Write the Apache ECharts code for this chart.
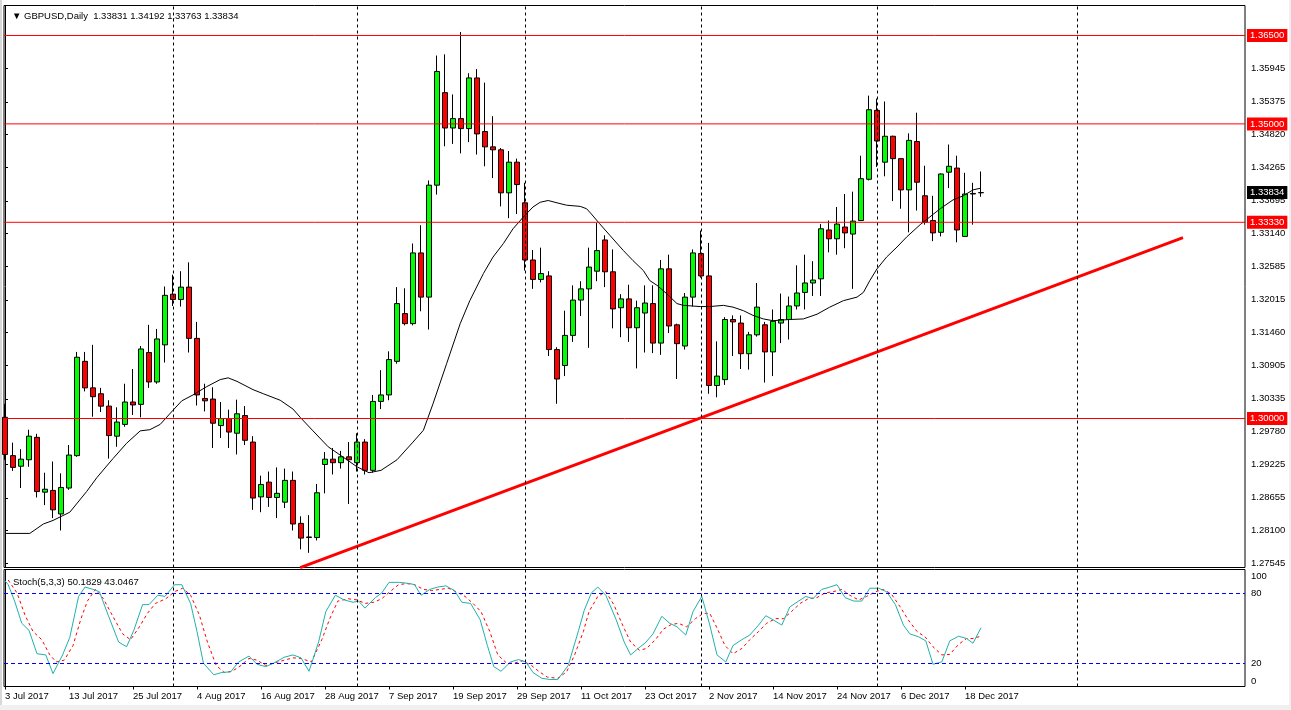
<!DOCTYPE html>
<html><head><meta charset="utf-8">
<script src="https://cdn.jsdelivr.net/npm/echarts/dist/echarts.min.js"></script>
<style>html,body{margin:0;padding:0;background:#fff;}#c{width:1291px;height:710px;}</style>
</head><body><div id="c"></div>
<script>
const xTickLabels = ['3 Jul 2017','13 Jul 2017','25 Jul 2017','4 Aug 2017','16 Aug 2017','28 Aug 2017','7 Sep 2017','19 Sep 2017','29 Sep 2017','11 Oct 2017','23 Oct 2017','2 Nov 2017','14 Nov 2017','24 Nov 2017','6 Dec 2017','18 Dec 2017'];
const opens = [
1.3002,1.2937,1.2919,1.2930,1.2968,1.2875,1.2878,1.2838,1.2882,1.2937,
1.3097,1.3052,1.3042,1.3021,1.2970,1.2990,1.3028,1.3024,1.3112,1.3062,
1.3125,1.3211,1.3202,1.3223,1.3136,1.3034,1.3033,1.2988,1.3000,1.2975,
1.3005,1.2960,1.2867,1.2892,1.2866,1.2858,1.2895,1.2822,1.2798,1.2798,
1.2922,1.2931,1.2925,1.2935,1.2925,1.2960,1.2912,1.3029,1.3040,1.3097,
1.3178,1.3161,1.3281,1.3206,1.3396,1.3553,1.3493,1.3509,1.3492,1.3578,
1.3487,1.3461,1.3456,1.3383,1.3435,1.3366,1.3269,1.3236,1.3242,1.3117,
1.3090,1.3141,1.3201,1.3220,1.3250,1.3303,1.3249,1.3188,1.3203,1.3154,
1.3179,1.3195,1.3128,1.3254,1.3159,1.3123,1.3206,1.3280,1.3242,1.3056,
1.3066,1.3168,1.3162,1.3110,1.3142,1.3159,1.3113,1.3162,1.3168,1.3191,
1.3214,1.3230,1.3237,1.3320,1.3305,1.3325,1.3313,1.3336,1.3406,1.3523,
1.3435,1.3479,1.3441,1.3388,1.3470,1.3378,1.3336,1.3316,1.3418,1.3425,
1.3309,1.3381,1.33831];
const highs = [
1.3025,1.2959,1.2948,1.2981,1.2974,1.2908,1.2927,1.2907,1.2955,1.3113,
1.3113,1.3125,1.3052,1.3031,1.3019,1.3059,1.3084,1.3123,1.3159,1.3152,
1.3224,1.3244,1.3250,1.3265,1.3164,1.3059,1.3053,1.3028,1.3015,1.3032,
1.3021,1.2970,1.2903,1.2910,1.2917,1.2915,1.2910,1.2834,1.2836,1.2889,
1.2943,1.2950,1.2945,1.2960,1.2975,1.2965,1.3040,1.3082,1.3114,1.3223,
1.3221,1.3297,1.3328,1.3404,1.3616,1.3618,1.3550,1.3656,1.3586,1.3593,
1.3570,1.3513,1.3459,1.3454,1.3441,1.3400,1.3286,1.3290,1.3250,1.3121,
1.3183,1.3226,1.3233,1.3290,1.3332,1.3311,1.3287,1.3211,1.3227,1.3200,
1.3226,1.3226,1.3269,1.3278,1.3161,1.3213,1.3287,1.3319,1.3298,1.3131,
1.3172,1.3175,1.3175,1.3147,1.3230,1.3164,1.3185,1.3212,1.3207,1.3260,
1.3278,1.3267,1.3330,1.3336,1.3359,1.3381,1.3385,1.3446,1.3548,1.3543,
1.3538,1.3480,1.3441,1.3484,1.3519,1.3429,1.3378,1.3416,1.3465,1.3446,
1.3417,1.3400,1.34192];
const lows = [
1.2930,1.2911,1.2882,1.2918,1.2866,1.2853,1.2831,1.2810,1.2879,1.2935,
1.3046,1.3003,1.3011,1.2932,1.2952,1.2986,1.3006,1.3002,1.3052,1.3059,
1.3095,1.3191,1.3190,1.3112,1.3022,1.3012,1.2950,1.2967,1.2950,1.2939,
1.2955,1.2845,1.2841,1.2850,1.2831,1.2848,1.2810,1.2778,1.2772,1.2793,
1.2873,1.2905,1.2915,1.2855,1.2910,1.2905,1.2908,1.3016,1.3031,1.3093,
1.3158,1.3158,1.3182,1.3151,1.3380,1.3462,1.3466,1.3450,1.3469,1.3448,
1.3428,1.3408,1.3360,1.3340,1.3347,1.3251,1.3220,1.3231,1.3106,1.3025,
1.3072,1.3130,1.3174,1.3120,1.3233,1.3223,1.3153,1.3138,1.3130,1.3085,
1.3112,1.3111,1.3108,1.3145,1.3067,1.3117,1.3190,1.3239,1.3042,1.3036,
1.3057,1.3106,1.3084,1.3083,1.3139,1.3061,1.3072,1.3128,1.3134,1.3185,
1.3185,1.3208,1.3208,1.3282,1.3278,1.3289,1.3220,1.3335,1.3404,1.3427,
1.3411,1.3369,1.3356,1.3316,1.3353,1.3329,1.3301,1.3309,1.3391,1.3299,
1.3308,1.3329,1.33763];
const closes = [
1.2939,1.2917,1.2931,1.2970,1.2876,1.2880,1.2845,1.2883,1.2938,1.3104,
1.3052,1.3037,1.3021,1.2971,1.2994,1.3028,1.3023,1.3118,1.3062,1.3135,
1.3209,1.3202,1.3223,1.3136,1.3040,1.3030,1.2992,1.3000,1.2977,1.3008,
1.2963,1.2865,1.2888,1.2866,1.2873,1.2895,1.2821,1.2797,1.2799,1.2874,
1.2931,1.2925,1.2935,1.2930,1.2960,1.2912,1.3029,1.3040,1.3100,1.3195,
1.3161,1.3281,1.3206,1.3396,1.3589,1.3493,1.3509,1.3492,1.3578,1.3483,
1.3461,1.3456,1.3383,1.3435,1.3397,1.3269,1.3236,1.3246,1.3117,1.3067,
1.3141,1.3201,1.3220,1.3257,1.3285,1.3249,1.3186,1.3203,1.3154,1.3188,
1.3196,1.3128,1.3254,1.3157,1.3127,1.3206,1.3281,1.3242,1.3056,1.3072,
1.3168,1.3164,1.3110,1.3142,1.3189,1.3113,1.3165,1.3168,1.3191,1.3213,
1.3230,1.3235,1.3322,1.3305,1.3330,1.3315,1.3335,1.3407,1.3524,1.3471,
1.3479,1.3441,1.3388,1.3472,1.3401,1.3333,1.3315,1.3415,1.3428,1.3320,
1.3381,1.3382,1.33834];
const maLine = [[0,1.2805],[3.1,1.2805],[4.8,1.2821],[6,1.2827],[8.1,1.2841],[10.2,1.2876],[11.5,1.2900],[13.5,1.2932],[15.2,1.2958],[16.9,1.2979],[18.1,1.2981],[19.4,1.2990],[21,1.3014],[22.1,1.3030],[23.5,1.3040],[25.2,1.3054],[26.9,1.3066],[27.9,1.3069],[29,1.3063],[31,1.3049],[32.3,1.3042],[34.4,1.3031],[36,1.3016],[36.9,1.3002],[38.5,1.2979],[40.4,1.2952],[42,1.2937],[44,1.2918],[45.5,1.2908],[47,1.2912],[49,1.2930],[51,1.2960],[52.3,1.2980],[53.5,1.3025],[55.2,1.3093],[56.9,1.3161],[58.1,1.3200],[59.8,1.3246],[61,1.3274],[62.3,1.3297],[63.5,1.3322],[64.8,1.3342],[66,1.3359],[66.9,1.3367],[67.9,1.3370],[69,1.3366],[70.2,1.3362],[71.9,1.3360],[72.7,1.3356],[73.3,1.3347],[74.3,1.3331],[75.6,1.3311],[77.3,1.3285],[78.5,1.3268],[79.8,1.3251],[80.6,1.3234],[81.5,1.3226],[82.7,1.3212],[84,1.3195],[84.8,1.3192],[86.9,1.3190],[88.1,1.3190],[89.8,1.3192],[91,1.3189],[92.3,1.3183],[93.5,1.3175],[94.8,1.3169],[96,1.3166],[98.1,1.3168],[99.8,1.3169],[101.5,1.3177],[103.1,1.3189],[104.8,1.3200],[106.5,1.3206],[107.3,1.3214],[108.1,1.3234],[109,1.3254],[110.2,1.3274],[111.5,1.3291],[112.7,1.3308],[114.4,1.3329],[115.6,1.3342],[116.9,1.3356],[118.5,1.3371],[119.8,1.3378],[121,1.3388],[122,1.3391]];
const stochMain = [[-0.1,91],[0.4,87],[1.2,73],[2.1,54],[3,48],[4,28],[5.1,27],[6,11],[7.2,27],[8.1,42],[9.2,77],[10,85],[11,83],[11.8,81],[12.9,61],[14.2,38],[15.2,34],[16.1,48],[17.2,70],[18,70],[19.1,78],[20,77],[21.2,87],[22.1,87],[23.2,71],[24,47],[24.8,20],[26.1,10],[27.1,12],[28.2,12.5],[29.2,21],[30.5,26],[31.5,19],[32.6,17],[33.6,20],[34.9,25],[36,27],[37,24.5],[38,13],[39.2,38],[40.1,64],[41.3,78],[42.4,74],[43.5,72],[44.2,73],[45,67],[46.3,76],[47.1,80],[48,89],[49.3,89],[50.6,88],[51.2,87],[52,78],[53.1,83],[54.1,85],[55.1,86],[56.2,82],[57.1,72],[58.2,71],[59.4,57],[60.3,35],[61.1,17],[62,13],[63.2,21],[64.2,23],[65.1,21],[66,12],[67.1,7],[68.1,6],[69.1,6],[70.4,18],[71.7,48],[72.4,65],[73.3,80],[74.1,85],[75.1,78],[76.4,57],[77.4,38],[78.2,27],[79.4,34],[80,37],[81,45],[82.1,60],[83.1,54],[84,51],[85.1,44],[86,64],[87.1,77],[88.1,52.5],[89,27],[90.1,21],[91,35],[92.1,40],[93.1,44],[94.2,52.5],[95.1,60.5],[96,57],[97.1,52.5],[98.1,68],[99.2,73],[100.1,77],[101,75],[102.1,83],[103.1,85],[104,87],[105,76],[106.1,73],[107.1,73],[108.1,84],[109.2,84],[110.2,81],[111.3,70],[112.3,52.5],[113.1,45],[114.2,42.5],[115.1,39],[116,19],[117.1,21],[118.1,39],[119.2,43],[120.2,41],[121,37],[122,50.18]];
const stochSignal = [[0.4,91],[1.5,80],[2.5,61],[3.5,47],[4.6,40],[5.6,27],[6.4,21],[7.4,22.5],[8.5,35],[9.5,58],[10.3,73],[11.3,83],[12.3,75],[13.4,61],[14.7,45],[15.7,40],[16.8,51],[17.8,62.5],[18.8,71],[20.1,75],[21.2,81],[22.2,84],[23.2,78],[24.3,61],[25.3,38],[26.4,18],[27.4,12],[28.4,13],[29.5,18],[30.5,24],[31.5,22.5],[32.6,18],[33.6,20],[34.9,22.5],[36,24.5],[37,24],[38.3,21],[39.6,40],[40.6,58],[41.6,73],[42.9,75],[44,74],[45,71],[46.1,72],[47.1,75],[48.1,81],[49.2,87],[50.2,88],[51.2,87],[52.3,83],[53.3,82],[54.4,83],[55.4,84],[56.4,81],[57.5,77],[58.5,71],[59.5,64],[60.6,47],[61.6,27],[62.7,20],[63.7,20],[64.7,22],[65.8,18],[66.8,12.5],[67.8,8],[69.1,7],[70.2,12.5],[71.2,27],[72.3,47],[73,64],[74.1,77],[75.1,81],[76.1,70],[77.2,52.5],[78.2,38],[79.3,31],[80.2,32.5],[81.3,40],[82.3,49],[83.3,53],[84.2,54],[85.2,51],[86.3,58],[87.3,62.5],[88.1,62.5],[89,50],[90,35],[91,28],[92.1,32.5],[93.1,40],[94.2,47],[95.2,54],[96.3,58],[97.3,58],[98.3,64],[99.4,71],[100.4,75],[101.5,76],[102.5,80],[103.5,81],[104.6,83],[105.6,78],[106.7,74],[107.7,77],[108.8,81],[109.8,83],[110.8,79],[111.9,68],[112.9,57],[114,47],[115,42.5],[116,34],[117.1,27],[118.1,27.5],[119.2,36],[120.2,41],[121,41],[122,43.05]];
const levels = [1.365, 1.35, 1.3333, 1.30];
const currentPrice = 1.33834;
const priceTicks = [1.27545,1.28100,1.28655,1.29225,1.29780,1.30335,1.30905,1.31460,1.32015,1.32585,1.33140,1.33695,1.34265,1.34820,1.35375,1.35945];
const stochLevels = [20, 80];
const stochTicks = [0, 20, 80, 100];
const monthLines = [21, 44, 65, 87, 109, 134];
const trendLine = [[36.9, 1.2747], [147.25, 1.3307]];

const FONT = '"Liberation Sans", Arial, sans-serif';
const FS = 9.5;
const X_MIN = -0.125, X_MAX = 155;
const tickIdx = xTickLabels.map((_, i) => i * 8);
const candleData = opens.map((o, i) => [i, o, closes[i], lows[i], highs[i]]);
const vLines = monthLines.map(v => ({ xAxis: v }));

function levelSeries(v, bg, lineColor) {
  return {
    type: 'line', xAxisIndex: 0, yAxisIndex: 0, z: 5, silent: true, symbol: 'none',
    data: [[X_MIN, v], [X_MAX, v]],
    lineStyle: { color: lineColor, width: 1 },
    endLabel: { show: true, formatter: v.toFixed(5), distance: 2, backgroundColor: bg, color: '#fff',
      padding: [2, 3, 1, 3], fontSize: FS, fontFamily: FONT }
  };
}

const chart = echarts.init(document.getElementById('c'));
chart.setOption({
  animation: false,
  backgroundColor: '#ffffff',
  textStyle: { fontFamily: FONT },
  title: [
    { text: '\u25BC GBPUSD,Daily  1.33831 1.34192 1.33763 1.33834', left: 7, top: 6,
      textStyle: { fontSize: FS, fontWeight: 'normal', color: '#000', fontFamily: FONT } },
    { text: 'Stoch(5,3,3) 50.1829 43.0467', left: 8, top: 572,
      textStyle: { fontSize: FS, fontWeight: 'normal', color: '#000', fontFamily: FONT } }
  ],
  graphic: [
    { type: 'rect', shape: { x: 0, y: 705, width: 1291, height: 5 }, style: { fill: '#f0f0f0' }, silent: true },
    { type: 'rect', shape: { x: 1289, y: 0, width: 2, height: 710 }, style: { fill: '#f0f0f0' }, silent: true },
    { type: 'rect', shape: { x: 0, y: 0, width: 2, height: 705 }, style: { fill: '#d8d8d8' }, silent: true }
  ],
  grid: [
    { left: 4, top: 5.5, width: 1241, height: 562, show: true, borderColor: '#000', borderWidth: 1, backgroundColor: '#fff' },
    { left: 4, top: 569.5, width: 1241, height: 117, show: true, borderColor: '#000', borderWidth: 1, backgroundColor: '#fff' }
  ],
  xAxis: [
    { gridIndex: 0, type: 'value', min: X_MIN, max: X_MAX, show: false },
    { gridIndex: 1, type: 'value', min: X_MIN, max: X_MAX,
      axisLine: { show: false }, splitLine: { show: false },
      axisTick: { show: true, customValues: tickIdx, length: 3, lineStyle: { color: '#000' } },
      axisLabel: { customValues: tickIdx, formatter: v => xTickLabels[Math.round(v / 8)] || '', align: 'left', margin: 5,
        showMinLabel: true, showMaxLabel: true, fontSize: FS, color: '#000', fontFamily: FONT } }
  ],
  yAxis: [
    { gridIndex: 0, type: 'value', position: 'right', min: 1.274714, max: 1.370091,
      axisLine: { show: true, lineStyle: { color: '#000' } },
      splitLine: { show: false },
      axisTick: { show: true, customValues: priceTicks, length: 3, lineStyle: { color: '#000' } },
      axisLabel: { customValues: priceTicks, formatter: v => v.toFixed(5), margin: 6, showMinLabel: true, showMaxLabel: true,
        fontSize: FS, color: '#000', fontFamily: FONT } },
    { gridIndex: 1, type: 'value', position: 'right', min: 0, max: 100,
      axisLine: { show: true, lineStyle: { color: '#000' } },
      splitLine: { show: false },
      axisTick: { show: true, customValues: stochLevels, length: 3, lineStyle: { color: '#0000ff' } },
      axisLabel: { customValues: stochTicks, margin: 6, showMinLabel: true, showMaxLabel: true, fontSize: FS, color: '#000', fontFamily: FONT,
        formatter: v => v === 100 ? '{t|100}' : (v === 0 ? '{b|0}' : String(v)),
        rich: { t: { padding: [13, 0, 0, 0], fontSize: FS, fontFamily: FONT, color: '#000' },
                b: { padding: [0, 0, 10, 0], fontSize: FS, fontFamily: FONT, color: '#000' } } } }
  ],
  series: [
    { type: 'line', xAxisIndex: 0, yAxisIndex: 0, data: [], z: 1, silent: true,
      markLine: { symbol: ['none', 'none'], silent: true, animation: false, label: { show: false },
        lineStyle: { color: '#000', type: [3, 3], width: 1 }, data: vLines } },
    { type: 'candlestick', xAxisIndex: 0, yAxisIndex: 0, data: candleData, encode: { x: 0, y: [1, 2, 3, 4] },
      barWidth: 5, z: 2,
      itemStyle: { color: '#00ff00', color0: '#ff0000', borderColor: '#000', borderColor0: '#000', borderColorDoji: '#000', borderWidth: 1 } },
    { type: 'line', xAxisIndex: 0, yAxisIndex: 0, data: maLine, symbol: 'none', z: 3,
      lineStyle: { color: '#000', width: 1 } },
    { type: 'line', xAxisIndex: 0, yAxisIndex: 0, data: trendLine, symbol: 'none', z: 4,
      lineStyle: { color: '#ff0000', width: 3, cap: 'butt' } }
  ].concat(levels.map(v => levelSeries(v, '#ff0000', '#ff0000')))
   .concat([levelSeries(currentPrice, '#000000', 'rgba(0,0,0,0)')])
   .concat([
    { type: 'line', xAxisIndex: 1, yAxisIndex: 1, data: [], z: 1, silent: true,
      markLine: { symbol: ['none', 'none'], silent: true, animation: false, label: { show: false },
        data: vLines.map(d => Object.assign({ lineStyle: { color: '#000', type: [3, 3], width: 1 } }, d))
          .concat(stochLevels.map(v => ({ yAxis: v, lineStyle: { color: '#0000ff', type: [4, 3], width: 1 } }))) } },
    { type: 'line', xAxisIndex: 1, yAxisIndex: 1, data: stochMain, symbol: 'none', z: 3,
      lineStyle: { color: '#20b2aa', width: 1 } },
    { type: 'line', xAxisIndex: 1, yAxisIndex: 1, data: stochSignal, symbol: 'none', z: 2,
      lineStyle: { color: '#ff0000', width: 1, type: [3, 3] } }
  ])
});
</script>
</body></html>
